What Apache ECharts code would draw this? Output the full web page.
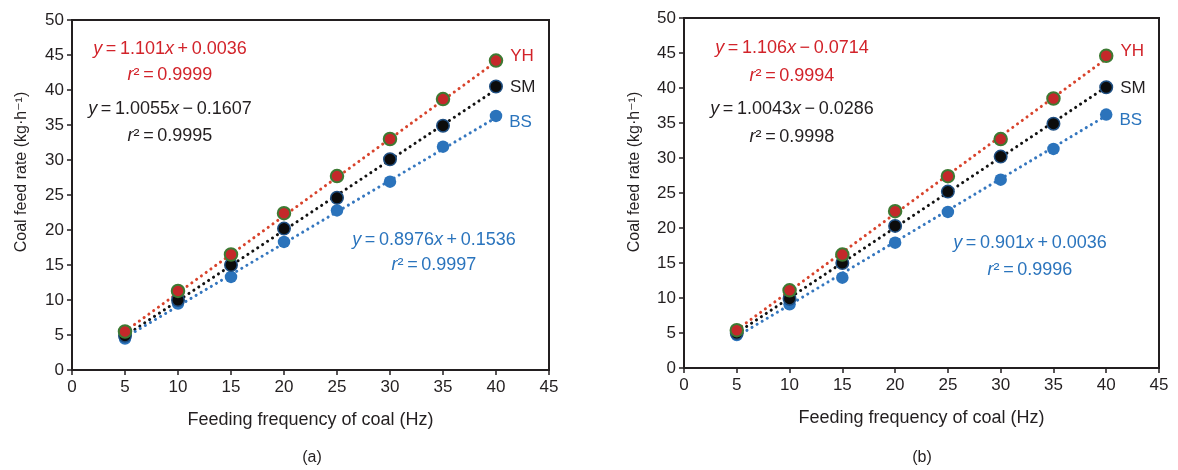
<!DOCTYPE html>
<html>
<head>
<meta charset="utf-8">
<script src="https://cdn.jsdelivr.net/npm/echarts@6/dist/echarts.min.js"></script>
<style>
  html, body { margin: 0; padding: 0; background: #fff; }
  #chart { width: 1178px; height: 470px; }
</style>
</head>
<body>
<div id="chart"></div>
<script>
// Feeding frequency (Hz)
const freq = [5, 10, 15, 20, 25, 30, 35, 40];

// Panel (a): measured coal feed rate (kg/h)
const yhA = [5.5, 11.3, 16.5, 22.4, 27.7, 33.0, 38.7, 44.2];
const smA = [4.9, 10.0, 15.0, 20.2, 24.6, 30.1, 34.9, 40.5];
const bsA = [4.5, 9.5, 13.3, 18.3, 22.8, 26.9, 31.9, 36.3];

// Panel (b): measured coal feed rate (kg/h)
const yhB = [5.4, 11.1, 16.2, 22.4, 27.4, 32.7, 38.5, 44.6];
const smB = [5.0, 9.9, 15.0, 20.3, 25.2, 30.2, 34.9, 40.1];
const bsB = [4.7, 9.1, 12.9, 17.9, 22.3, 26.9, 31.3, 36.2];

// Linear fits [slope, intercept] and r^2, order: YH, SM, BS
const fitsA = [[1.101, 0.0036], [1.0055, -0.1607], [0.8976, 0.1536]];
const r2A = [0.9999, 0.9995, 0.9997];
const fitsB = [[1.106, -0.0714], [1.0043, -0.0286], [0.901, 0.0036]];
const r2B = [0.9994, 0.9998, 0.9996];

const coalNames = ['YH', 'SM', 'BS'];
const xTicks = [0, 45, 5];   // min, max, step
const yTicks = [0, 50, 5];

const FONT = '"Liberation Sans", Arial, "DejaVu Sans", sans-serif';
const INK = '#231f20';
const RED = '#d2232a';
const BLUE = '#2a74bd';

const lineColors = ['#d8432c', '#111111', '#3577bf'];
const textColors = [RED, INK, BLUE];
const markerStyles = [
  { color: '#c4282a', borderColor: '#3e7a33', borderWidth: 2, opacity: 1 },
  { color: '#0c0c0c', borderColor: '#1f4f82', borderWidth: 1.5, opacity: 1 },
  { color: '#2b73bb', borderColor: '#2b73bb', borderWidth: 0, opacity: 1 }
];
const nameOffsets = [[0, -4], [0, 1], [0, 6]];

function makeAxes(idx) {
  const x = {
    gridIndex: idx, type: 'value', min: xTicks[0], max: xTicks[1], interval: xTicks[2],
    axisLine: { show: true, onZero: false, lineStyle: { color: INK, width: 2 } },
    axisTick: { show: true, inside: false, length: 5, lineStyle: { color: INK, width: 1.5 } },
    axisLabel: { color: INK, fontSize: 17, fontFamily: FONT, margin: 9 },
    splitLine: { show: false },
    name: 'Feeding frequency of coal (Hz)',
    nameLocation: 'middle', nameGap: 41,
    nameTextStyle: { color: INK, fontSize: 18, fontFamily: FONT }
  };
  const y = {
    gridIndex: idx, type: 'value', min: yTicks[0], max: yTicks[1], interval: yTicks[2],
    axisLine: { show: true, onZero: false, lineStyle: { color: INK, width: 2 } },
    axisTick: { show: true, inside: false, length: 5, lineStyle: { color: INK, width: 1.5 } },
    axisLabel: { color: INK, fontSize: 17, fontFamily: FONT, margin: 8 },
    splitLine: { show: false }
  };
  return [x, y];
}

function panelSeries(idx, values, fits) {
  const out = [];
  // dotted regression lines
  fits.forEach((f, k) => {
    const x0 = freq[0], x1 = freq[freq.length - 1];
    out.push({
      type: 'line', xAxisIndex: idx, yAxisIndex: idx, z: 2,
      symbol: 'none', silent: true,
      data: [[x0, f[0] * x0 + f[1]], [x1, f[0] * x1 + f[1]]],
      lineStyle: { color: lineColors[k], width: 3, type: [0.1, 5.8], cap: 'round', opacity: 1 }
    });
  });
  // measured points; BS drawn first, YH on top
  [2, 1, 0].forEach(k => {
    const last = freq.length - 1;
    out.push({
      type: 'scatter', name: coalNames[k], xAxisIndex: idx, yAxisIndex: idx, z: 3 + (2 - k),
      symbol: 'circle', symbolSize: 12.5,
      itemStyle: markerStyles[k],
      data: freq.map((f, i) => i === last
        ? { value: [f, values[k][i]], label: {
            show: true, position: 'right', distance: 7, offset: nameOffsets[k],
            formatter: coalNames[k], color: textColors[k], opacity: 1,
            fontSize: 17, fontFamily: FONT } }
        : [f, values[k][i]])
    });
  });
  return out;
}

function signed(v) {
  return v < 0 ? '\u2009\u2212\u2009' + String(-v) : '\u2009+\u2009' + String(v);
}

function richText(text, x, y, color) {
  return {
    type: 'text', x: x, y: y, silent: true,
    style: {
      text: text,
      fill: color, fontSize: 18, fontFamily: FONT,
      align: 'center', verticalAlign: 'middle',
      textAlign: 'center', textVerticalAlign: 'middle',
      rich: {
        i: { fill: color, color: color, fontSize: 18, fontFamily: FONT, fontStyle: 'italic' },
        n: { fill: color, color: color, fontSize: 18, fontFamily: FONT }
      }
    }
  };
}

function eqText(f) {
  return '{i|y}{n|\u2009=\u2009' + String(f[0]) + '}{i|x}{n|' + signed(f[1]) + '}';
}
function r2Text(r) {
  return '{i|r}{n|\u00b2\u2009=\u2009' + String(r) + '}';
}

// annotation anchors (centre x, centre y of equation line, then r^2 line)
const eqPosA = [[170, 49, 75], [170, 109, 136], [434, 240, 265]];
const eqPosB = [[792, 48, 76], [792, 109, 137], [1030, 243, 270]];

const graphics = [];
[[fitsA, r2A, eqPosA], [fitsB, r2B, eqPosB]].forEach(([fits, r2, pos]) => {
  fits.forEach((f, k) => {
    graphics.push(richText(eqText(f), pos[k][0], pos[k][1], textColors[k]));
    graphics.push(richText(r2Text(r2[k]), pos[k][0], pos[k][2], textColors[k]));
  });
});
// vertical axis titles
[22, 635].forEach(x => {
  graphics.push({
    type: 'text', x: x, y: 172, rotation: Math.PI / 2, silent: true,
    style: {
      text: 'Coal feed rate (kg\u00b7h\u207b\u00b9)', fill: INK, fontSize: 16, fontFamily: FONT,
      align: 'center', verticalAlign: 'middle', textAlign: 'center', textVerticalAlign: 'middle'
    }
  });
});
// panel captions
[['(a)', 312], ['(b)', 922]].forEach(([t, x]) => {
  graphics.push({
    type: 'text', x: x, y: 458, silent: true,
    style: {
      text: t, fill: INK, fontSize: 16, fontFamily: FONT,
      align: 'center', verticalAlign: 'middle', textAlign: 'center', textVerticalAlign: 'middle'
    }
  });
});

const axesA = makeAxes(0);
const axesB = makeAxes(1);

const option = {
  animation: false,
  backgroundColor: '#ffffff',
  grid: [
    { left: 72, top: 20, width: 477, height: 350, show: true, borderColor: INK, borderWidth: 2, backgroundColor: 'transparent' },
    { left: 684, top: 18, width: 475, height: 350, show: true, borderColor: INK, borderWidth: 2, backgroundColor: 'transparent' }
  ],
  xAxis: [axesA[0], axesB[0]],
  yAxis: [axesA[1], axesB[1]],
  series: panelSeries(0, [yhA, smA, bsA], fitsA).concat(panelSeries(1, [yhB, smB, bsB], fitsB)),
  graphic: graphics
};

const chart = echarts.init(document.getElementById('chart'), null, { renderer: 'canvas' });
chart.setOption(option);
</script>
</body>
</html>
